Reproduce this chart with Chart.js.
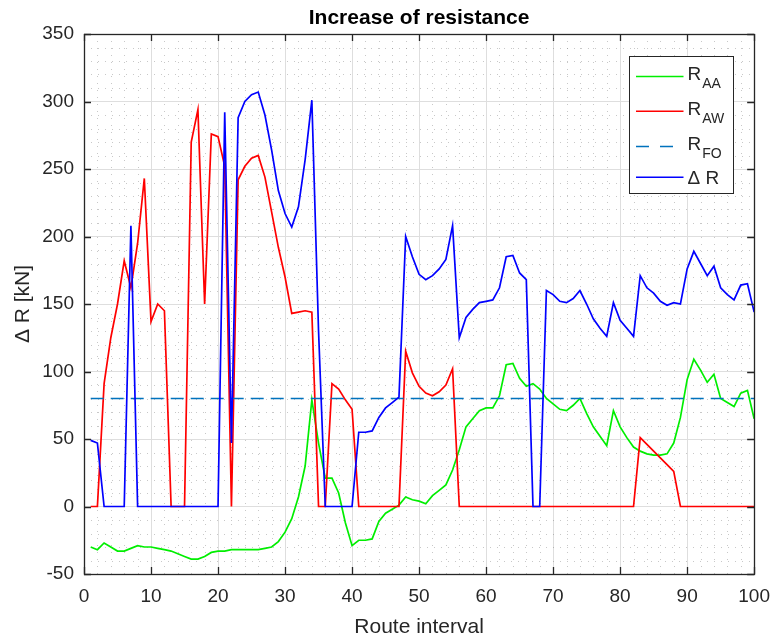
<!DOCTYPE html>
<html>
<head>
<meta charset="utf-8">
<title>Increase of resistance</title>
<script src="https://cdn.jsdelivr.net/npm/chart.js@4.4.1/dist/chart.umd.min.js"></script>
<style>
  html, body { margin: 0; padding: 0; background: #ffffff; }
  #wrap { width: 781px; height: 640px; }
</style>
</head>
<body>
<div id="wrap"><canvas id="resistanceChart" width="781" height="640"></canvas></div>
<script>
// Increase of resistance along the route.

const routeInterval = [
  1, 2, 3, 4, 5, 6, 7, 8, 9, 10,
  11, 12, 13, 14, 15, 16, 17, 18, 19, 20,
  21, 22, 23, 24, 25, 26, 27, 28, 29, 30,
  31, 32, 33, 34, 35, 36, 37, 38, 39, 40,
  41, 42, 43, 44, 45, 46, 47, 48, 49, 50,
  51, 52, 53, 54, 55, 56, 57, 58, 59, 60,
  61, 62, 63, 64, 65, 66, 67, 68, 69, 70,
  71, 72, 73, 74, 75, 76, 77, 78, 79, 80,
  81, 82, 83, 84, 85, 86, 87, 88, 89, 90,
  91, 92, 93, 94, 95, 96, 97, 98, 99, 100
];

// R_AA (green)
const rAA = [
  -30, -32, -27, -30, -33, -33, -31, -29, -30, -30,
  -31, -32, -33, -35, -37, -39, -39, -37, -34, -33,
  -33, -32, -32, -32, -32, -32, -31, -30, -26, -19,
  -9, 7, 30, 79, 47, 21, 21, 10, -12, -29,
  -25, -25, -24, -11, -5, -2, 1, 7, 5, 4,
  2, 8, 12, 16, 27, 42, 59, 65, 71, 73,
  73, 82, 105, 106, 95, 89, 91, 87, 80, 76,
  72, 71, 75, 80, 69, 59, 52, 45, 71, 59,
  51, 44, 41, 39, 38, 38, 39, 47, 66, 94,
  109, 101, 92, 98, 80, 77, 74, 84, 86, 65
];

// R_AW (red)
const rAW = [
  0, 0, 91, 125, 150, 182, 162, 195, 243, 137,
  150, 145, 0, 0, 0, 270, 294, 150, 276, 274,
  252, 0, 242, 252, 258, 260, 244, 218, 192, 170,
  143, 144, 145, 144, 0, 0, 91, 87, 79, 72,
  0, 0, 0, 0, 0, 0, 0, 115, 99, 89,
  84, 82, 85, 90, 102, 0, 0, 0, 0, 0,
  0, 0, 0, 0, 0, 0, 0, 0, 0, 0,
  0, 0, 0, 0, 0, 0, 0, 0, 0, 0,
  0, 0, 51, 46, 41, 36, 31, 26, 0, 0,
  0, 0, 0, 0, 0, 0, 0, 0, 0, 0
];

// R_FO (dashed, constant)
const rFO = [
  80, 80, 80, 80, 80, 80, 80, 80, 80, 80,
  80, 80, 80, 80, 80, 80, 80, 80, 80, 80,
  80, 80, 80, 80, 80, 80, 80, 80, 80, 80,
  80, 80, 80, 80, 80, 80, 80, 80, 80, 80,
  80, 80, 80, 80, 80, 80, 80, 80, 80, 80,
  80, 80, 80, 80, 80, 80, 80, 80, 80, 80,
  80, 80, 80, 80, 80, 80, 80, 80, 80, 80,
  80, 80, 80, 80, 80, 80, 80, 80, 80, 80,
  80, 80, 80, 80, 80, 80, 80, 80, 80, 80,
  80, 80, 80, 80, 80, 80, 80, 80, 80, 80
];

// Delta R (blue)
const deltaR = [
  49, 47, 0, 0, 0, 0, 208, 0, 0, 0,
  0, 0, 0, 0, 0, 0, 0, 0, 0, 0,
  292, 47, 288, 300, 305, 307, 290, 264, 234, 217,
  207, 222, 257, 301, 130, 0, 0, 0, 0, 0,
  55, 55, 56, 66, 73, 77, 81, 200, 185, 172,
  168, 171, 176, 183, 208, 125, 140, 146, 151, 152,
  153, 162, 185, 186, 173, 168, 0, 0, 160, 157,
  152, 151, 154, 160, 150, 139, 132, 126, 151, 138,
  132, 126, 171, 162, 158, 152, 149, 151, 150, 176,
  189, 180, 171, 178, 162, 157, 153, 164, 165, 144
];

const xTicks = [0, 10, 20, 30, 40, 50, 60, 70, 80, 90, 100];
const yTicks = [-50, 0, 50, 100, 150, 200, 250, 300, 350];
const xMinorStep = 2;
const yMinorStep = 10;

const legendMain = ["R", "R", "R", "\u0394 R"];
const legendSub = ["AA", "AW", "FO", ""];

const chartTitle = "Increase of resistance";
const xTitle = "Route interval";
const yTitle = "\u0394 R [kN]";

const colAA = "#00ee00";
const colAW = "#ff0000";
const colFO = "#0072bd";
const colDR = "#0000ff";
const axisColor = "#262626";
const fontFamily = "'Liberation Sans', Arial, Helvetica, sans-serif";

function toPoints(values) {
  return routeInterval.map((r, i) => ({ x: r, y: values[i] }));
}

const legendStyles = [
  { color: colAA, dash: [] },
  { color: colAW, dash: [] },
  { color: colFO, dash: [13, 11] },
  { color: colDR, dash: [] }
];

// MATLAB-ish frame: minor dotted grid, box, inward ticks, title and legend.
const matlabFrame = {
  id: "matlabFrame",
  beforeDatasetsDraw(chart) {
    const { ctx, chartArea: a, scales } = chart;
    const x = scales.x;
    const y = scales.y;
    ctx.save();
    ctx.strokeStyle = "rgba(110,110,110,0.38)";
    ctx.lineWidth = 1;
    ctx.setLineDash([1, 6]);
    for (let v = x.min; v <= x.max; v += xMinorStep) {
      if (xTicks.includes(v)) continue;
      const px = Math.round(x.getPixelForValue(v)) + 0.5;
      ctx.beginPath();
      ctx.moveTo(px, a.top);
      ctx.lineTo(px, a.bottom);
      ctx.stroke();
    }
    for (let v = y.min; v <= y.max; v += yMinorStep) {
      if (yTicks.includes(v)) continue;
      const py = Math.round(y.getPixelForValue(v)) + 0.5;
      ctx.beginPath();
      ctx.moveTo(a.left, py);
      ctx.lineTo(a.right, py);
      ctx.stroke();
    }
    ctx.restore();
  },
  afterDraw(chart) {
    const { ctx, chartArea: a, scales } = chart;
    const x = scales.x;
    const y = scales.y;
    const tl = 7;
    ctx.save();

    // box + inward ticks
    ctx.strokeStyle = axisColor;
    ctx.lineWidth = 1.3;
    ctx.setLineDash([]);
    ctx.strokeRect(Math.round(a.left) + 0.5, Math.round(a.top) + 0.5,
      Math.round(a.right - a.left), Math.round(a.bottom - a.top));
    ctx.beginPath();
    xTicks.forEach((v) => {
      const px = Math.round(x.getPixelForValue(v)) + 0.5;
      ctx.moveTo(px, a.bottom);
      ctx.lineTo(px, a.bottom - tl);
      ctx.moveTo(px, a.top);
      ctx.lineTo(px, a.top + tl);
    });
    yTicks.forEach((v) => {
      const py = Math.round(y.getPixelForValue(v)) + 0.5;
      ctx.moveTo(a.left, py);
      ctx.lineTo(a.left + tl, py);
      ctx.moveTo(a.right, py);
      ctx.lineTo(a.right - tl, py);
    });
    ctx.stroke();

    // title
    ctx.fillStyle = "#000000";
    ctx.font = "bold 21px " + fontFamily;
    ctx.textAlign = "center";
    ctx.textBaseline = "alphabetic";
    ctx.fillText(chartTitle, (a.left + a.right) / 2, 23.5);

    // legend
    const bx = Math.round(a.right - 125.5) + 0.5;
    const by = Math.round(a.top + 22) + 0.5;
    const bw = 104;
    const bh = 137;
    ctx.fillStyle = "#ffffff";
    ctx.fillRect(bx, by, bw, bh);
    ctx.strokeStyle = axisColor;
    ctx.lineWidth = 1;
    ctx.strokeRect(bx, by, bw, bh);
    const rowY = [20, 54.7, 90, 120.7];
    legendMain.forEach((label, i) => {
      const ly = by + rowY[i];
      ctx.strokeStyle = legendStyles[i].color;
      ctx.lineWidth = 1.6;
      ctx.setLineDash(legendStyles[i].dash);
      ctx.beginPath();
      ctx.moveTo(bx + 6.5, ly);
      ctx.lineTo(bx + 54, ly);
      ctx.stroke();
      ctx.setLineDash([]);
      ctx.fillStyle = axisColor;
      ctx.textAlign = "left";
      ctx.font = "19px " + fontFamily;
      const tx = bx + 58;
      if (legendSub[i]) {
        const base = ly + 3.5;
        ctx.fillText(label, tx, base);
        const w = ctx.measureText(label).width;
        ctx.font = "14px " + fontFamily;
        ctx.fillText(legendSub[i], tx + w + 1, base + 8);
      } else {
        ctx.fillText(label, tx, ly + 7);
      }
    });
    ctx.restore();
  }
};

const ctx = document.getElementById("resistanceChart").getContext("2d");
new Chart(ctx, {
  type: "line",
  data: {
    datasets: [
      {
        label: "R_AA",
        data: toPoints(rAA),
        borderColor: colAA,
        borderWidth: 1.7,
        pointRadius: 0,
        tension: 0,
        order: 3
      },
      {
        label: "R_AW",
        data: toPoints(rAW),
        borderColor: colAW,
        borderWidth: 1.7,
        pointRadius: 0,
        tension: 0,
        order: 2
      },
      {
        label: "R_FO",
        data: toPoints(rFO),
        borderColor: colFO,
        borderWidth: 1.7,
        borderDash: [13, 7],
        pointRadius: 0,
        tension: 0,
        order: 1
      },
      {
        label: "\u0394 R",
        data: toPoints(deltaR),
        borderColor: colDR,
        borderWidth: 1.7,
        pointRadius: 0,
        tension: 0,
        order: 0
      }
    ]
  },
  options: {
    responsive: false,
    animation: false,
    devicePixelRatio: 1,
    layout: { padding: { top: 34, right: 17, bottom: 0, left: 0 } },
    plugins: {
      legend: { display: false },
      tooltip: { enabled: false },
      title: { display: false }
    },
    scales: {
      x: {
        type: "linear",
        min: 0,
        max: 100,
        afterFit: (scale) => { scale.height = 66; },
        ticks: {
          stepSize: 10,
          padding: 11,
          color: axisColor,
          font: { family: fontFamily, size: 19 },
          maxRotation: 0
        },
        grid: { color: "#dedede", lineWidth: 1, drawTicks: false },
        border: { display: false },
        title: {
          display: true,
          text: xTitle,
          color: axisColor,
          font: { family: fontFamily, size: 21 },
          padding: { top: 0, bottom: 0 }
        }
      },
      y: {
        type: "linear",
        min: -50,
        max: 350,
        afterFit: (scale) => { scale.width = 84; },
        ticks: {
          stepSize: 50,
          padding: 10,
          color: axisColor,
          font: { family: fontFamily, size: 19 }
        },
        grid: { color: "#dedede", lineWidth: 1, drawTicks: false },
        border: { display: false },
        title: {
          display: true,
          text: yTitle,
          color: axisColor,
          font: { family: fontFamily, size: 21 },
          padding: { top: 11, bottom: 0 }
        }
      }
    }
  },
  plugins: [matlabFrame]
});
</script>
</body>
</html>
